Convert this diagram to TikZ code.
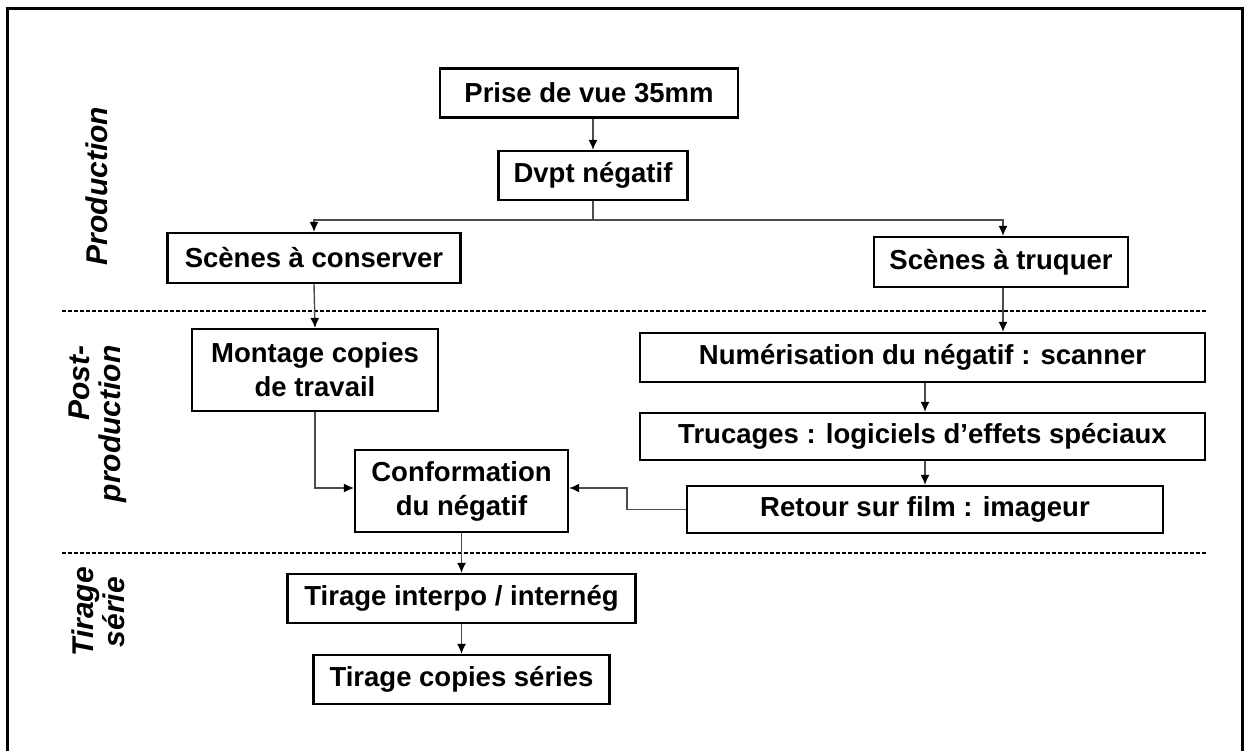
\documentclass[tikz,border=0pt]{standalone}
\usepackage{fontspec}
\setmainfont{Liberation Sans}
\usetikzlibrary{arrows.meta,calc}

\begin{document}
\begin{tikzpicture}[x=1pt,y=-1pt,
  stepbox/.style={draw=black, line width=2.2pt, minimum height=49pt,
    inner sep=0pt, align=center,
    font=\fontsize{27.5}{34}\selectfont\bfseries},
  phase/.style={rotate=90, align=center, inner sep=0pt,
    font=\fontsize{30}{31}\selectfont\bfseries\itshape},
  link/.style={draw=black!70, line width=1.4pt},
  arr/.style={link, -{Latex[length=10pt,width=9pt,black]}},
  sep/.style={draw=black, line width=2.6pt, dash pattern=on 4pt off 2pt}
]
\useasboundingbox (0,0) rectangle (1247,751);

% outer frame
\draw[line width=3pt] (7,751) -- (7,9) -- (1242,9) -- (1242,751);

% phase separators
\draw[sep] (62,311) -- (1207,311);
\draw[sep] (62,553) -- (1207,553);

% phase labels
\node[phase] (lprod) at (97,186) {Production};
\node[phase, align=right] (lpost) at (98,424) {Post-\\production};
\node[phase] (ltir)  at (98,612) {Tirage\\série};

% steps
\node[stepbox, minimum width=298pt] (prise) at (589,93) {Prise de vue 35mm};
\node[stepbox, minimum width=189pt] (dvpt) at (593,175.5) {Dvpt négatif};
\node[stepbox, minimum width=293pt, minimum height=50pt] (conserver) at (314,258) {Scènes à conserver};
\node[stepbox, minimum width=254pt, minimum height=50pt] (truquer) at (1001,262) {Scènes à truquer};
\node[stepbox, minimum width=246pt, minimum height=82pt] (montage) at (315,370) {Montage copies\\de travail};
\node[stepbox, minimum width=565pt] (numer) at (922.5,357.5) {Numérisation du négatif : scanner};
\node[stepbox, minimum width=565pt, minimum height=47pt] (trucages) at (922.5,436.5) {Trucages : logiciels d’effets spéciaux};
\node[stepbox, minimum width=476pt, minimum height=47pt] (retour) at (925,509.5) {Retour sur film : imageur};
\node[stepbox, minimum width=213pt, minimum height=82pt] (conform) at (461.5,491) {Conformation\\du négatif};
\node[stepbox, minimum width=348pt] (interpo) at (461.5,598.5) {Tirage interpo / internég};
\node[stepbox, minimum width=296pt] (copies) at (461.5,679.5) {Tirage copies séries};

% connectors
\draw[arr] (prise.south -| dvpt.north) -- (dvpt.north);
\coordinate (fork) at ($(dvpt.south)+(0,19)$);
\draw[link] (dvpt.south) -- (fork);
\draw[arr] (fork) -| (conserver.north);
\draw[arr] (fork) -| ([xshift=2pt]truquer.north);
\draw[arr] (conserver.south) -- (montage.north);
\draw[arr] ([xshift=2pt]truquer.south) -- ([xshift=2pt]truquer.south |- numer.north);
\draw[arr] (numer.south -| retour.north) -- (trucages.north -| retour.north);
\draw[arr] (trucages.south -| retour.north) -- (retour.north);
\coordinate (mc) at ([yshift=3pt]montage.south |- conform.west);
\draw[arr] (montage.south) -- (mc) -- ([yshift=3pt]conform.west);
\coordinate (rk) at ([xshift=-59pt]retour.west);
\draw[arr] (retour.west) -- (rk) |- ([yshift=3pt]conform.east);
\draw[arr] (conform.south) -- (interpo.north);
\draw[arr] (interpo.south) -- (copies.north);
\end{tikzpicture}
\end{document}
